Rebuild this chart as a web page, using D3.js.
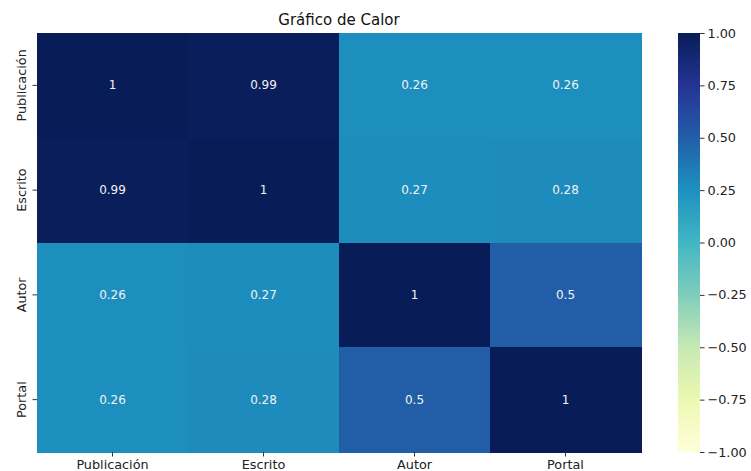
<!DOCTYPE html>
<html><head><meta charset="utf-8">
<script src="https://cdn.jsdelivr.net/npm/d3@7"></script>
<style>body{margin:0;background:#fff}svg{display:block}text{font-family:"DejaVu Sans",sans-serif}</style>
</head><body><svg id="c" width="751" height="471"></svg>
<script>
const labels = ["Publicación","Escrito","Autor","Portal"];
const matrix = [
  [1, 0.99, 0.26, 0.26],
  [0.99, 1, 0.27, 0.28],
  [0.26, 0.27, 1, 0.5],
  [0.26, 0.28, 0.5, 1]
];
const cbTicks = [1, 0.75, 0.5, 0.25, 0, -0.25, -0.5, -0.75, -1];
const palette = ["#ffffd9","#edf8b1","#c7e9b4","#7fcdbb","#41b6c4","#1d91c0","#225ea8","#253494","#081d58"];
const title = "Gráfico de Calor";

const svg = d3.select("#c");
const L = 37, R = 641, T = 33, B = 452;
const x = d3.scaleBand().domain(labels).range([L, R]);
const y = d3.scaleBand().domain(labels).range([T, B]);
const color = d3.scaleLinear().domain(d3.range(9).map(i => -1 + i * 2 / 8)).range(palette).interpolate(d3.interpolateRgb).clamp(true);

const cells = [];
matrix.forEach((row, i) => row.forEach((v, j) => cells.push({r: labels[i], c: labels[j], v})));
svg.append("g").attr("shape-rendering", "crispEdges").selectAll("rect").data(cells).join("rect")
  .attr("x", d => x(d.c)).attr("y", d => y(d.r))
  .attr("width", x.bandwidth() + 1).attr("height", y.bandwidth() + 1)
  .attr("fill", d => color(d.v));
svg.append("g").selectAll("text").data(cells).join("text")
  .attr("x", d => x(d.c) + x.bandwidth() / 2).attr("y", d => y(d.r) + y.bandwidth() / 2)
  .attr("text-anchor", "middle").attr("dominant-baseline", "central")
  .attr("font-size", 12).attr("fill", "#f2f2f2")
  .text(d => d3.format("")(d.v));

const fs = 12.8;
const xa = svg.append("g").attr("transform", `translate(0,${B})`)
  .call(d3.axisBottom(x).tickSize(4.5).tickPadding(3));
xa.select(".domain").remove();
xa.selectAll("text").attr("font-size", fs).attr("fill", "#222").style("font-family", "DejaVu Sans");
xa.selectAll("line").attr("stroke", "#333");

const ya = svg.append("g").attr("transform", `translate(${L},0)`)
  .call(d3.axisLeft(y).tickSize(4.5).tickPadding(3));
ya.select(".domain").remove();
ya.selectAll("line").attr("stroke", "#333");
ya.selectAll("text").attr("font-size", fs).attr("fill", "#222").style("font-family", "DejaVu Sans")
  .attr("transform", "rotate(-90)").attr("x", 0).attr("y", -11).attr("dy", 0)
  .attr("text-anchor", "middle").attr("dominant-baseline", "auto");

svg.append("text").attr("x", (L + R) / 2).attr("y", 25).attr("text-anchor", "middle")
  .attr("font-size", 15).attr("fill", "#111").text(title);

// colorbar
const cbx = 678, cbw = 22;
const cy = d3.scaleLinear().domain([-1, 1]).range([B, T]);
const defs = svg.append("defs");
const grad = defs.append("linearGradient").attr("id", "g").attr("x1", 0).attr("y1", 1).attr("x2", 0).attr("y2", 0);
palette.forEach((c, i) => grad.append("stop").attr("offset", i / 8).attr("stop-color", c));
svg.append("rect").attr("x", cbx).attr("y", T).attr("width", cbw).attr("height", B - T).attr("fill", "url(#g)");
const ca = svg.append("g").attr("transform", `translate(${cbx + cbw},0)`)
  .call(d3.axisRight(cy).tickValues(cbTicks).tickSize(4.5).tickPadding(3).tickFormat(d => d3.format(".2f")(d).replace("-", "−")));
ca.select(".domain").remove();
ca.selectAll("line").attr("stroke", "#333");
ca.selectAll("text").attr("font-size", fs).attr("fill", "#222").style("font-family", "DejaVu Sans");
</script></body></html>
